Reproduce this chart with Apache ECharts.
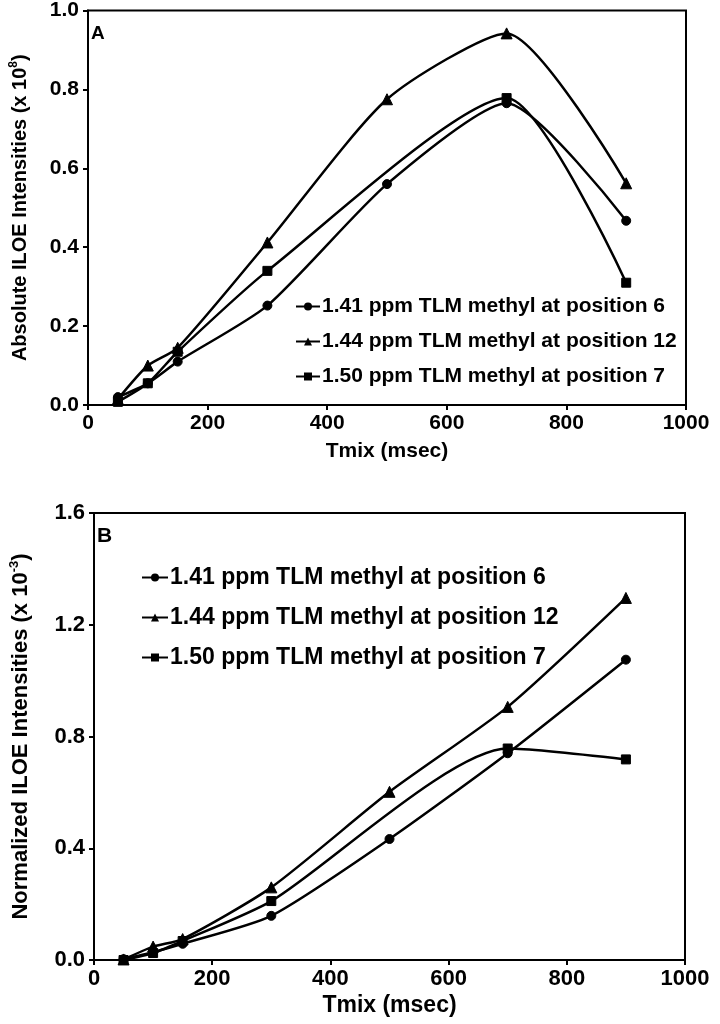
<!DOCTYPE html>
<html><head><meta charset="utf-8">
<script src="https://cdn.jsdelivr.net/npm/echarts@6/dist/echarts.min.js"></script>
<style>html,body{margin:0;padding:0;background:#fff}#c{width:720px;height:1024px}</style>
</head><body><div id="c"></div>
<script>
// ---- data ----
const tmix = [50, 100, 150, 300, 500, 700, 900];
const seriesNames = ['1.41 ppm TLM methyl at position 6', '1.44 ppm TLM methyl at position 12', '1.50 ppm TLM methyl at position 7'];
// Panel A: absolute ILOE intensities (x 10^8)
const absPos6  = [0.020, 0.055, 0.110, 0.252, 0.560, 0.765, 0.467];
const absPos12 = [0.015, 0.100, 0.145, 0.412, 0.775, 0.942, 0.562];
const absPos7  = [0.008, 0.055, 0.135, 0.340, null, 0.778, 0.310];
// Panel B: normalized ILOE intensities (x 10^-3)
const normPos6  = [0.003, 0.028, 0.058, 0.158, 0.433, 0.740, 1.075];
const normPos12 = [0.002, 0.048, 0.075, 0.260, 0.602, 0.906, 1.296];
const normPos7  = [0.000, 0.025, 0.068, 0.211, null, 0.757, 0.718];
const xTicks = [0, 200, 400, 600, 800, 1000];
const yTicksA = [0.0, 0.2, 0.4, 0.6, 0.8, 1.0];
const yTicksB = [0.0, 0.4, 0.8, 1.2, 1.6];

const fA = "'Liberation Sans', Arial, sans-serif";
const fB = "'Liberation Sans', Arial, sans-serif";
const symbols = ['circle', 'triangle', 'rect'];
const sizes = [9, 11, 9];

function pairs(vals){ return tmix.map((t,i)=>[t, vals[i]]); }

function mkSeries(vals, k, gi){
  return {
    name: seriesNames[k], type: 'line', xAxisIndex: gi, yAxisIndex: gi,
    data: pairs(vals), smooth: 0.22, connectNulls: true,
    symbol: symbols[k], symbolSize: sizes[k], showAllSymbol: true,
    lineStyle: {color: '#000', width: 2.5},
    itemStyle: {color: '#000', borderColor: '#000'},
    emphasis: {disabled: true}, animation: false, z: 3
  };
}

const axisCommon = (font, size) => ({
  axisLine: {show: true, onZero: false, lineStyle: {color: '#000', width: 2}},
  axisTick: {show: true, inside: false, length: 5, lineStyle: {color: '#000', width: 2}},
  splitLine: {show: false},
  nameTextStyle: {color: '#000', fontWeight: 'bold', fontFamily: font, fontSize: size}
});
const xFmt = v => String(Math.round(v));
const yFmt = v => v.toFixed(1);

const chart = echarts.init(document.getElementById('c'), null, {renderer: 'canvas'});
chart.setOption({
  animation: false,
  backgroundColor: '#fff',
  grid: [
    {left: 78, top: 9, width: 608, height: 396, show: true, borderColor: '#000', borderWidth: 2, backgroundColor: 'transparent'},
    {left: 86, top: 513, width: 599, height: 447, show: true, borderColor: '#000', borderWidth: 2, backgroundColor: 'transparent'}
  ],
  xAxis: [
    Object.assign(axisCommon(fA, 21), {gridIndex: 0, type: 'value', min: 0, max: 1000, interval: 200,
      name: 'Tmix (msec)', nameLocation: 'middle', nameGap: 36,
      axisLabel: {color: '#000', fontWeight: 'bold', fontFamily: fA, fontSize: 21, margin: 8, formatter: xFmt}}),
    Object.assign(axisCommon(fB, 23), {gridIndex: 1, type: 'value', min: 0, max: 1000, interval: 200,
      name: 'Tmix (msec)', nameLocation: 'middle', nameGap: 34,
      axisLabel: {color: '#000', fontWeight: 'bold', fontFamily: fB, fontSize: 22, margin: 8, formatter: xFmt}})
  ],
  yAxis: [
    Object.assign(axisCommon(fA, 20), {gridIndex: 0, type: 'value', min: 0, max: 1.0, interval: 0.2,
      name: 'Absolute ILOE Intensities (x 10{sup|8})', nameLocation: 'middle', nameGap: 56, nameRotate: 90,
      nameTextStyle: {color: '#000', fontWeight: 'bold', fontFamily: fA, fontSize: 20,
        rich: {sup: {fontSize: 12, fontWeight: 'bold', fontFamily: fA, verticalAlign: 'top', padding: [0,0,12,0]}}},
      axisLabel: {color: '#000', fontWeight: 'bold', fontFamily: fA, fontSize: 21, margin: 9, formatter: yFmt}}),
    Object.assign(axisCommon(fB, 22), {gridIndex: 1, type: 'value', min: 0, max: 1.6, interval: 0.4,
      name: 'Normalized ILOE Intensities (x 10{sup|-3})', nameLocation: 'middle', nameGap: 60, nameRotate: 90,
      nameTextStyle: {color: '#000', fontWeight: 'bold', fontFamily: fB, fontSize: 22,
        rich: {sup: {fontSize: 13, fontWeight: 'bold', fontFamily: fB, verticalAlign: 'top', padding: [0,0,13,0]}}},
      axisLabel: {color: '#000', fontWeight: 'bold', fontFamily: fB, fontSize: 22, margin: 9, formatter: yFmt}})
  ],
  legend: [
    {data: seriesNames, orient: 'vertical', left: 290, top: 291, itemWidth: 24, itemHeight: 10, itemGap: 14,
      textStyle: {color: '#000', fontWeight: 'bold', fontFamily: fA, fontSize: 21, padding: [0,0,0,-3]}, selectedMode: false},
    {data: seriesNames, orient: 'vertical', left: 136, top: 561, itemWidth: 26, itemHeight: 10, itemGap: 17,
      textStyle: {color: '#000', fontWeight: 'bold', fontFamily: fB, fontSize: 23, padding: [0,0,0,-3]}, selectedMode: false}
  ],
  graphic: [
    {type: 'text', left: 91, top: 24, style: {text: 'A', font: "bold 19px " + fA, fill: '#000'}},
    {type: 'text', left: 97, top: 526, style: {text: 'B', font: "bold 21px " + fB, fill: '#000'}}
  ],
  series: [
    mkSeries(absPos6, 0, 0), mkSeries(absPos12, 1, 0), mkSeries(absPos7, 2, 0),
    mkSeries(normPos6, 0, 1), mkSeries(normPos12, 1, 1), mkSeries(normPos7, 2, 1)
  ]
});
</script></body></html>
